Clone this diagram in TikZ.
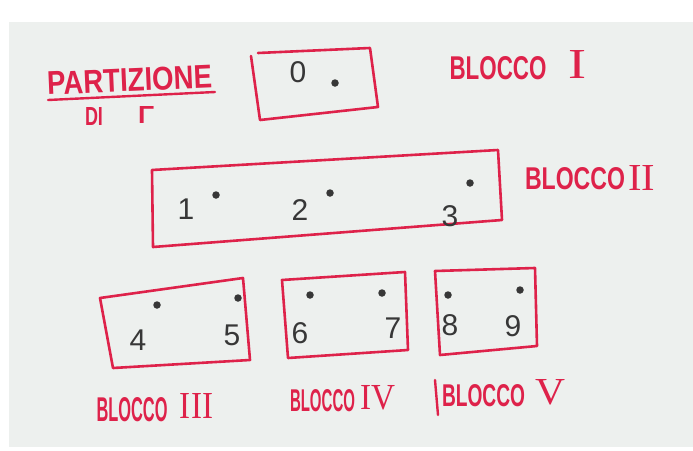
\documentclass[tikz,border=0pt]{standalone}
\usepackage{fontspec}
\usepackage{graphicx}
\setmainfont{Liberation Sans}
\newfontfamily\serifnum{Liberation Serif}
\definecolor{paper}{RGB}{237,240,238}
\definecolor{marker}{RGB}{222,34,74}
\definecolor{pencil}{RGB}{55,55,55}
\tikzset{
  blockbox/.style={draw=marker, line width=2.6pt, line join=round, line cap=round},
  redtxt/.style={text=marker, inner sep=0pt, anchor=center, font=\bfseries},
  romtxt/.style={text=marker, inner sep=0pt, anchor=center, font=\mdseries},
  digit/.style={text=pencil, inner sep=0pt, anchor=center, font=\fontsize{30}{32}\selectfont},
  pt/.style={fill=pencil, draw=none, circle, minimum size=7.5pt, inner sep=0pt}
}
\newcommand{\fitbox}[3]{\resizebox{#1pt}{#2pt}{#3}}
\begin{document}
\begin{tikzpicture}[x=1pt,y=-1pt]
\useasboundingbox (0,0) rectangle (693,450);
\fill[white] (0,0) rectangle (693,450);
\fill[paper] (9,22) rectangle (693,447);

% title
\node[redtxt, rotate=2.5] (part) at (129.5,80) {\fitbox{165}{23}{PARTIZIONE}};
\coordinate (ulA) at (48,100);
\coordinate (ulB) at (215,92);
\draw[marker, line width=2.4pt, line cap=round] (ulA) -- (ulB);
\node[redtxt] (di) at (94,116) {\fitbox{18}{18}{DI}};
\node[redtxt] (gamma) at (146,115) {\fitbox{16}{17}{Γ}};

% block I
\coordinate (a1) at (258,53); \coordinate (a2) at (370,48);
\coordinate (a3) at (378,107); \coordinate (a4) at (260,120);
\draw[blockbox] (a1) -- (a2) -- (a3) -- (a4) -- (251,56);
\node[digit] (n0) at (298,72) {0};
\node[pt] (d0) at (335,83) {};
\node[redtxt] (b1) at (498,68.5) {\fitbox{97}{23}{BLOCCO}};
\node[romtxt] (r1) at (577,64) {\fitbox{18}{28}{\serifnum I}};

% block II
\coordinate (b1a) at (152,170); \coordinate (b1b) at (498,150);
\coordinate (b1c) at (502,220); \coordinate (b1d) at (153,247);
\draw[blockbox] (b1a) -- (b1b) -- (b1c) -- (b1d) -- cycle;
\node[digit] (n1) at (186,209) {1};
\node[pt] (d1) at (216,195) {};
\node[digit] (n2) at (300,210) {2};
\node[pt] (d2) at (330,193) {};
\node[digit] (n3) at (450,216) {3};
\node[pt] (d3) at (470,183) {};
\node[redtxt] (b2) at (575,179) {\fitbox{100}{22}{BLOCCO}};
\node[romtxt] (r2) at (641.5,177.5) {\fitbox{27}{25}{\serifnum II}};

% block III
\coordinate (c1) at (100,298); \coordinate (c2) at (243,278);
\coordinate (c3) at (250,360); \coordinate (c4) at (113,368);
\draw[blockbox] (c1) -- (c2) -- (c3) -- (c4) -- cycle;
\node[digit] (n4) at (138,340) {4};
\node[pt] (d4) at (157,305) {};
\node[digit] (n5) at (232,335) {5};
\node[pt] (d5) at (238,298) {};
\node[redtxt] (b3) at (132,410) {\fitbox{71}{24}{BLOCCO}};
\node[romtxt] (r3) at (196.5,405.5) {\fitbox{33}{25}{\serifnum III}};

% block IV
\coordinate (e1) at (282,280); \coordinate (e2) at (405,272);
\coordinate (e3) at (408,350); \coordinate (e4) at (288,358);
\draw[blockbox] (e1) -- (e2) -- (e3) -- (e4) -- cycle;
\node[digit] (n6) at (300,333) {6};
\node[pt] (d6) at (310,295) {};
\node[digit] (n7) at (393,328) {7};
\node[pt] (d7) at (382,293) {};
\node[redtxt] (b4) at (322.5,401) {\fitbox{65}{22}{BLOCCO}};
\node[romtxt] (r4) at (377.5,398) {\fitbox{35}{24}{\serifnum IV}};

% block V
\coordinate (f1) at (435,271); \coordinate (f2) at (535,268);
\coordinate (f3) at (537,346); \coordinate (f4) at (440,355);
\draw[blockbox] (f1) -- (f2) -- (f3) -- (f4) -- cycle;
\node[digit] (n8) at (450,325) {8};
\node[pt] (d8) at (448,295) {};
\node[digit] (n9) at (513,326) {9};
\node[pt] (d9) at (520,290) {};
\coordinate (barA) at (435,380);
\coordinate (barB) at (438,415);
\draw[marker, line width=2.4pt, line cap=round] (barA) -- (barB);
\node[redtxt] (b5) at (483.5,396) {\fitbox{83}{22}{BLOCCO}};
\node[romtxt] (r5) at (550,392.5) {\fitbox{30}{25}{\serifnum V}};
\end{tikzpicture}
\end{document}
